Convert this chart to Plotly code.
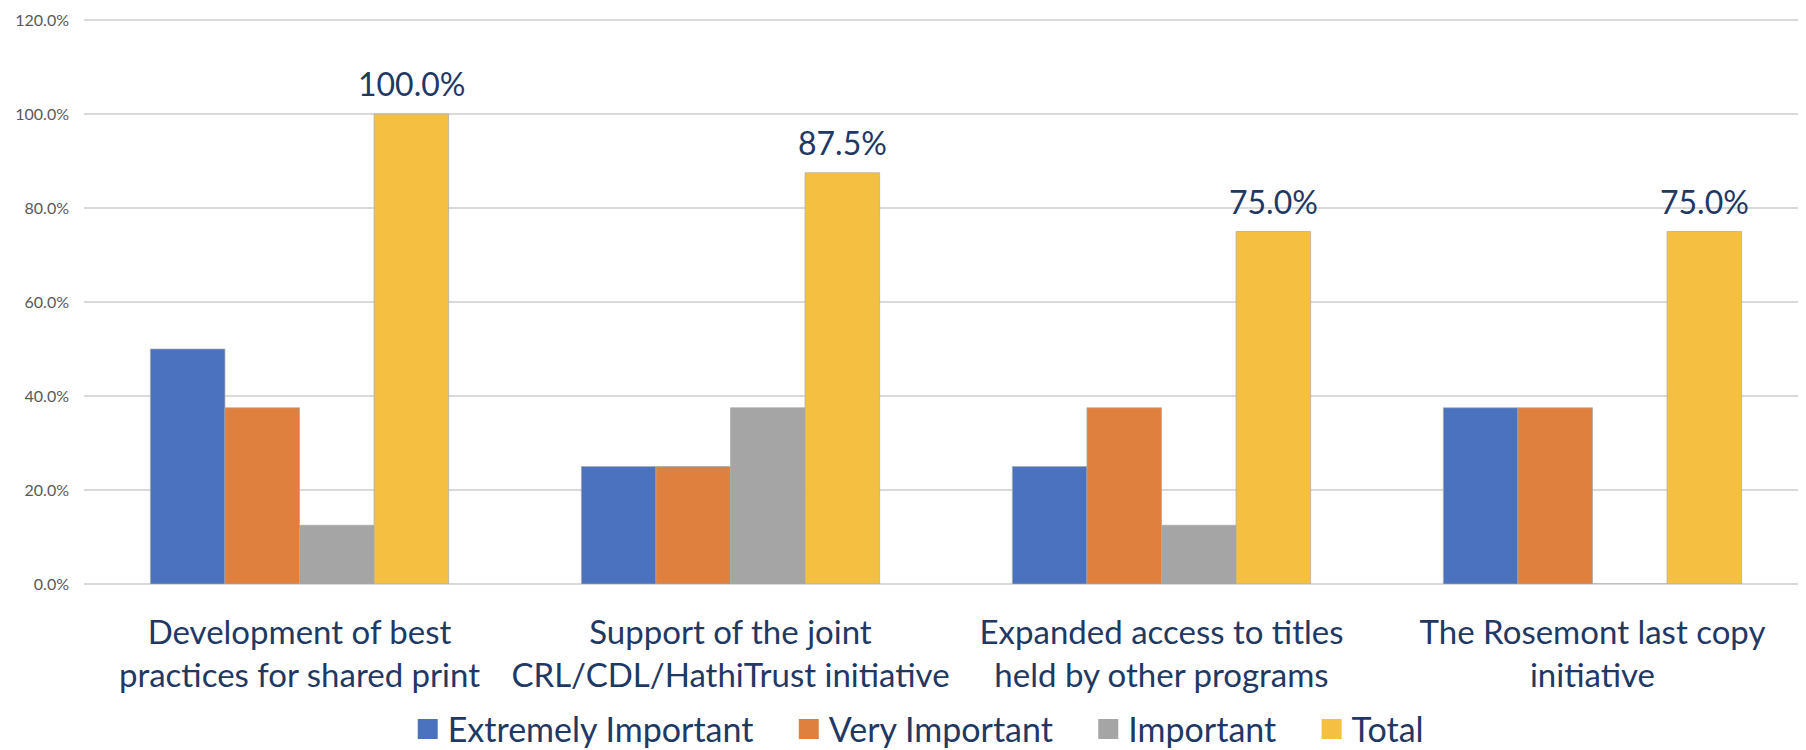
import plotly.graph_objects as go

categories = [
    "Development of best<br>practices for shared print",
    "Support of the joint<br>CRL/CDL/HathiTrust initiative",
    "Expanded access to titles<br>held by other programs",
    "The Rosemont last copy<br>initiative",
]
extremely = [0.50, 0.25, 0.25, 0.375]
very = [0.375, 0.25, 0.375, 0.375]
important = [0.125, 0.375, 0.125, 0.0]
total = [1.00, 0.875, 0.75, 0.75]

series_names = ["Extremely Important", "Very Important", "Important", "Total"]
series_values = [extremely, very, important, total]
colors = ["#4A72BE", "#E0803F", "#A5A5A5", "#F5C042"]

y_ticks = [0, 0.2, 0.4, 0.6, 0.8, 1.0, 1.2]

FONT = "Lato"
NAVY = "#1F3864"
BARGAP = 0.308
PAD = "\u00a0" * 3 + "\u2009"

fig = go.Figure()
for k, (name, vals, col) in enumerate(zip(series_names, series_values, colors)):
    fig.add_trace(go.Bar(
        x=categories, y=vals, name=name,
        marker=dict(color=col, line=dict(color="rgba(170,170,170,0.7)", width=1)),
        showlegend=False,
    ))
    # legend swatch
    fig.add_trace(go.Scatter(
        x=[None], y=[None], mode="markers",
        name=name + (PAD if k < len(series_names) - 1 else ""),
        marker=dict(symbol="square", size=16, color=col, line=dict(color=col, width=4)),
        showlegend=True,
    ))

# data labels on Total bars
n = len(series_names)
bar_w = (1 - BARGAP) / n
offset = (n - 1) / 2 * bar_w
for i, v in enumerate(total):
    fig.add_annotation(
        x=i + offset, y=v, xref="x", yref="y",
        text=f"{v*100:.1f}%", showarrow=False,
        yanchor="bottom", yshift=9,
        font=dict(family=FONT, size=32, color=NAVY),
    )

fig.update_layout(
    width=1806, height=750,
    margin=dict(l=76, r=6, t=10, b=174, autoexpand=False),
    paper_bgcolor="white", plot_bgcolor="white",
    barmode="group", bargap=BARGAP, bargroupgap=0,
    font=dict(family=FONT, color=NAVY),
    legend=dict(
        orientation="h", xref="container", yref="paper",
        x=0.504, xanchor="center", y=-0.308, yanchor="bottom",
        font=dict(family=FONT, size=34, color=NAVY),
        itemclick=False,
    ),
)
fig.update_xaxes(
    range=[-0.5, 3.5], automargin=False,
    tickfont=dict(family=FONT, size=33, color=NAVY),
    showgrid=False, showline=False, ticks="",
    ticklabelstandoff=26,
)
fig.update_yaxes(
    range=[0, 1.20426], tickvals=y_ticks, tickformat=".1%", automargin=False,
    tickfont=dict(family=FONT, size=16, color="#595959"),
    showgrid=True, gridcolor="#D9D9D9", gridwidth=2,
    zeroline=True, zerolinecolor="#D9D9D9", zerolinewidth=2,
    ticklabelstandoff=14,
)

fig.write_html("out.html")
